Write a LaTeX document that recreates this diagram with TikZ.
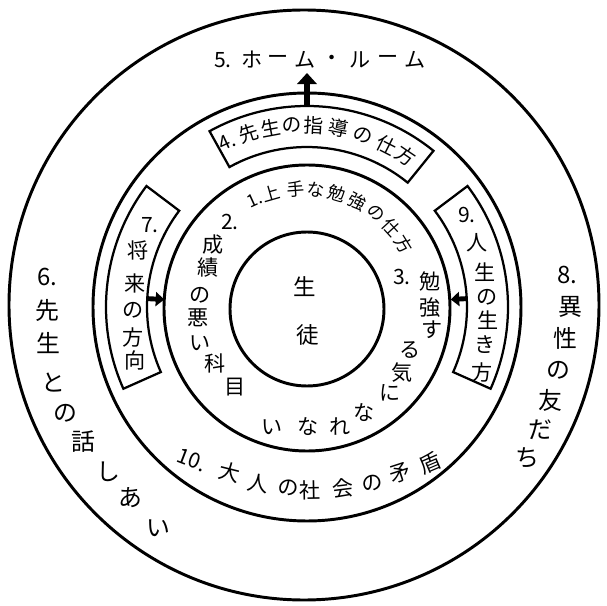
\documentclass[tikz,border=0pt]{standalone}
\usepackage{fontspec}
\newfontfamily\jpfont{Noto Sans CJK JP}
\usetikzlibrary{arrows.meta}

\begin{document}
\begin{tikzpicture}[x=0.025cm, y=0.025cm,
  ring/.style={draw=black, line width=2.1pt},
  band/.style={draw=black, line width=1.6pt, fill=white},
  jp/.style={font=\jpfont\fontsize{#1}{#1}\selectfont, inner sep=0pt},
  uparr/.style={-{Triangle[width=14pt, length=8pt]}, line width=4pt},
  sidearr/.style={-{Triangle[width=10pt, length=6pt]}, line width=3.5pt}
]
\useasboundingbox (-304,-299) rectangle (303,307);

% Rings
\draw[ring] (0,2) circle[radius=295];
\begin{scope}[shift={(3,0)}]
\draw[ring] (0,0) circle[radius=214];
\draw[ring] (0,-1) circle[radius=143];
\draw[ring] (0,-2) circle[radius=77];

% Curved boxes
\draw[band] (51:201) arc[start angle=51, end angle=119, radius=201]
  -- (119:160) arc[start angle=119, end angle=51, radius=160] -- cycle;
\draw[band] (143:201) arc[start angle=143, end angle=204, radius=201]
  -- (204:160) arc[start angle=204, end angle=143, radius=160] -- cycle;
\draw[band] (-24:201) arc[start angle=-24, end angle=37, radius=201]
  -- (37:160) arc[start angle=37, end angle=-24, radius=160] -- cycle;

% Arrow ends
\coordinate (b4)  at (90:201);
\coordinate (hr)  at (90:234);
\coordinate (b7)  at (177:160);
\coordinate (c3w) at (177:143);
\coordinate (b9)  at (3:160);
\coordinate (c3e) at (3:144);
\end{scope}

% Arrows
\draw[uparr] (b4) -- (hr);
\draw[sidearr] (b7) -- (c3w);
\draw[sidearr] (b9) -- (c3e);

% Centre
\node[jp=16pt] (stu1) at (1,20) {生};
\node[jp=16pt] (stu2) at (4,-28) {徒};

% 5. outer top
\foreach \c/\x [count=\i] in {5./-81, ホ/-52, ー/-26, ム/1, ・/28, ル/56, ー/84, ム/111}
  \node[jp=15pt] (t5-\i) at (\x,247) {\c};

% 6. outer left
\foreach \c/\x/\y [count=\i] in {6./-257/30, 先/-257/-3, 生/-256/-36, と/-251/-76,
    の/-239/-106, 話/-221/-135, し/-196/-165, あ/-174/-191, い/-146/-221}
  \node[jp=17pt] (t6-\i) at (\x,\y) {\c};

% 8. outer right
\foreach \c/\x/\y [count=\i] in {8./263/32, 異/266/0, 性/261/-31, の/254/-63,
    友/246/-93, だ/236/-123, ち/223/-151}
  \node[jp=17pt] (t8-\i) at (\x,\y) {\c};

% 7. and 9. in the side boxes
\foreach \c/\x/\y [count=\i] in {7./-154/82, 将/-166/57, 来/-169/24, の/-171/-3,
    方/-171/-30, 向/-169/-53}
  \node[jp=15pt] (t7-\i) at (\x,\y) {\c};
\foreach \c/\x/\y [count=\i] in {9./163/92, 人/173/64, 生/181/35, の/183/10,
    生/184/-13, き/181/-38, 方/178/-65}
  \node[jp=15pt] (t9-\i) at (\x,\y) {\c};

% 4. in the top box
\foreach \c/\a [count=\i] in {4./115, 先/107.6, 生/100.6, の/93.9, 指/87, 導/79,
    の/71, 仕/63, 方/56}
  \node[jp=14pt, rotate=\a-90] (t4-\i) at (\a:182) {\c};

% 1. inner top
\foreach \c/\a [count=\i] in {1./114.6, 上/106, 手/94, な/84, 勉/74, 強/63,
    の/52.6, 仕/42.5, 方/32}
  \node[jp=12.5pt, rotate=\a-90] (t1-\i) at (\a:118) {\c};

% 2. and 3. inner sides
\foreach \c/\x/\y [count=\i] in {2./-74/85, 成/-91/62, 績/-96/39, の/-104/12,
    悪/-106/-11, い/-104/-36, 科/-89/-56, 目/-69/-80}
  \node[jp=15pt] (t2-\i) at (\x,\y) {\c};
\foreach \c/\x/\y [count=\i] in {3./98/30, 勉/126/25, 強/126/-1, す/128/-23,
    る/106/-43, 気/98/-66, に/86/-86, な/60/-106, れ/36/-120, な/4/-120, い/-32/-120}
  \node[jp=15pt] (t3-\i) at (\x,\y) {\c};

% 10. lower band
\foreach \c/\x/\y/\r [count=\i] in {10./-112/-153/-21, 大/-74/-165/-14, 人/-46/-176/-9,
    の/-16/-181/-3, 社/6/-183/1, 会/39/-181/7, の/68/-176/12, 矛/96/-166/18, 盾/126/-156/23}
  \node[jp=15pt, rotate=\r] (t10-\i) at (\x,\y) {\c};
\end{tikzpicture}
\end{document}
